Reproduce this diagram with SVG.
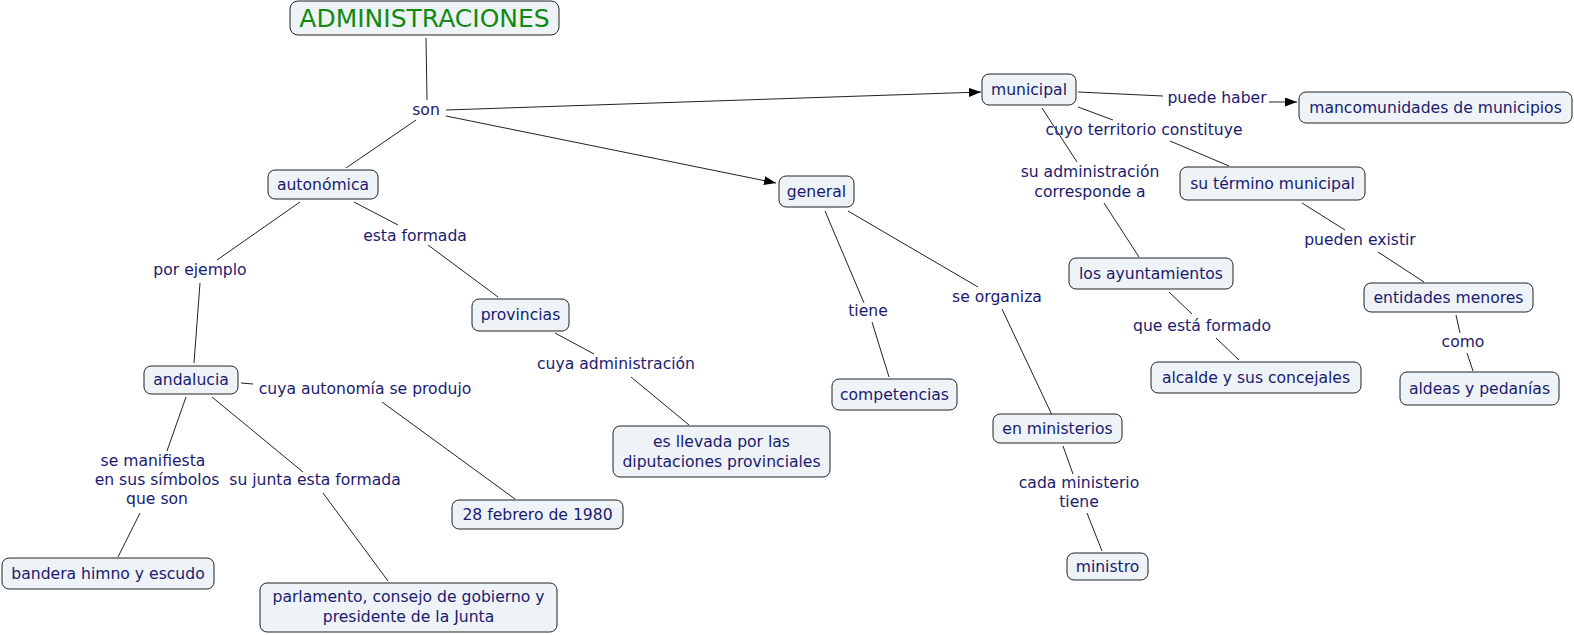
<svg xmlns="http://www.w3.org/2000/svg" width="1574" height="635" viewBox="0 0 1574 635">
<style>
.n rect{fill:#edf3f6;stroke:#222;stroke-width:1}
text{font-family:"DejaVu Sans",Verdana,sans-serif;font-size:15.6px;fill:#1a1a70;text-anchor:middle}
.t{font-size:25px;fill:#128a12}
#connectors line{stroke:#222;stroke-width:1}
.a{marker-end:url(#ah)}
</style>
<defs>
<marker id="ah" viewBox="0 0 12 9" refX="12" refY="4.5" markerWidth="12" markerHeight="9" markerUnits="userSpaceOnUse" orient="auto">
<path d="M0,0 L12,4.5 L0,9 z" fill="#000"/>
</marker>
</defs>
<rect width="1574" height="635" fill="#fff"/>
<g id="connectors">
<line x1="426" y1="38" x2="427" y2="100"/>
<line class="a" x1="446" y1="110" x2="981" y2="92"/>
<line class="a" x1="446" y1="116" x2="776" y2="183"/>
<line x1="416" y1="120" x2="346" y2="168"/>
<line x1="1078" y1="92" x2="1163" y2="96"/>
<line class="a" x1="1269" y1="102" x2="1297" y2="102"/>
<line x1="1078" y1="107" x2="1113" y2="120"/>
<line x1="1170" y1="141" x2="1229" y2="166"/>
<line x1="1042" y1="108" x2="1077" y2="162"/>
<line x1="1104" y1="203" x2="1139" y2="257"/>
<line x1="1302" y1="203" x2="1345" y2="230"/>
<line x1="1378" y1="252" x2="1424" y2="282"/>
<line x1="1456" y1="315" x2="1460" y2="333"/>
<line x1="1467" y1="353" x2="1473" y2="371"/>
<line x1="1169" y1="292" x2="1192" y2="314"/>
<line x1="1216" y1="338" x2="1239" y2="360"/>
<line x1="354" y1="202" x2="398" y2="225"/>
<line x1="428" y1="245" x2="498" y2="297"/>
<line x1="300" y1="202" x2="217" y2="260"/>
<line x1="200" y1="283" x2="194" y2="363"/>
<line x1="555" y1="333" x2="594" y2="354"/>
<line x1="631" y1="377" x2="689" y2="425"/>
<line x1="825" y1="211" x2="864" y2="303"/>
<line x1="872" y1="322" x2="889" y2="377"/>
<line x1="848" y1="211" x2="978" y2="287"/>
<line x1="1002" y1="309" x2="1052" y2="415"/>
<line x1="1063" y1="446" x2="1073" y2="474"/>
<line x1="1087" y1="513" x2="1102" y2="551"/>
<line x1="241" y1="383" x2="253" y2="384"/>
<line x1="382" y1="402" x2="515" y2="499"/>
<line x1="186" y1="397" x2="167" y2="451"/>
<line x1="140" y1="513" x2="118" y2="557"/>
<line x1="212" y1="397" x2="303" y2="472"/>
<line x1="323" y1="493" x2="388" y2="581"/>
</g>
<g id="labels">
<text x="426" y="115">son</text>
<text x="1217" y="103">puede haber</text>
<text x="1144" y="135">cuyo territorio constituye</text>
<text x="1090" y="177">su administración</text>
<text x="1090" y="197">corresponde a</text>
<text x="1360" y="245">pueden existir</text>
<text x="415" y="241">esta formada</text>
<text x="200" y="275">por ejemplo</text>
<text x="868" y="316">tiene</text>
<text x="997" y="302">se organiza</text>
<text x="1202" y="331">que está formado</text>
<text x="1463" y="347">como</text>
<text x="616" y="369">cuya administración</text>
<text x="365" y="394">cuya autonomía se produjo</text>
<text x="153" y="466">se manifiesta</text>
<text x="157" y="485">en sus símbolos</text>
<text x="157" y="504">que son</text>
<text x="315" y="485">su junta esta formada</text>
<text x="1079" y="488">cada ministerio</text>
<text x="1079" y="507">tiene</text>
</g>
<g id="n-admin" class="n"><rect x="290" y="1" width="269" height="34" rx="8"/><text class="t" x="424.5" y="27">ADMINISTRACIONES</text></g>
<g id="n-municipal" class="n"><rect x="982" y="74" width="94" height="31" rx="7"/><text x="1029" y="95">municipal</text></g>
<g id="n-mancomunidades" class="n"><rect x="1299" y="92" width="273" height="31" rx="7"/><text x="1435.5" y="113">mancomunidades de municipios</text></g>
<g id="n-termino" class="n"><rect x="1180" y="167" width="185" height="33" rx="7"/><text x="1272.5" y="189">su término municipal</text></g>
<g id="n-autonomica" class="n"><rect x="268" y="170" width="110" height="29" rx="7"/><text x="323" y="190">autonómica</text></g>
<g id="n-general" class="n"><rect x="779" y="176" width="75" height="31" rx="7"/><text x="816.5" y="197">general</text></g>
<g id="n-ayuntamientos" class="n"><rect x="1069" y="258" width="164" height="31" rx="7"/><text x="1151" y="279">los ayuntamientos</text></g>
<g id="n-entidades" class="n"><rect x="1364" y="283" width="169" height="29" rx="7"/><text x="1448.5" y="303">entidades menores</text></g>
<g id="n-provincias" class="n"><rect x="472" y="299" width="97" height="32" rx="7"/><text x="520.5" y="320">provincias</text></g>
<g id="n-andalucia" class="n"><rect x="144" y="366" width="94" height="28" rx="7"/><text x="191" y="385">andalucia</text></g>
<g id="n-competencias" class="n"><rect x="832" y="379" width="125" height="31" rx="7"/><text x="894.5" y="400">competencias</text></g>
<g id="n-alcalde" class="n"><rect x="1151" y="362" width="210" height="31" rx="7"/><text x="1256" y="383">alcalde y sus concejales</text></g>
<g id="n-aldeas" class="n"><rect x="1400" y="372" width="159" height="33" rx="7"/><text x="1479.5" y="394">aldeas y pedanías</text></g>
<g id="n-ministerios" class="n"><rect x="993" y="414" width="129" height="29" rx="7"/><text x="1057.5" y="434">en ministerios</text></g>
<g id="n-diputaciones" class="n"><rect x="613" y="426" width="217" height="51" rx="7"/><text x="721.5" y="447">es llevada por las</text><text x="721.5" y="467">diputaciones provinciales</text></g>
<g id="n-1980" class="n"><rect x="452" y="500" width="171" height="29" rx="7"/><text x="537.5" y="520">28 febrero de 1980</text></g>
<g id="n-ministro" class="n"><rect x="1067" y="553" width="81" height="27" rx="7"/><text x="1107.5" y="572">ministro</text></g>
<g id="n-bandera" class="n"><rect x="2" y="558" width="212" height="31" rx="7"/><text x="108" y="579">bandera himno y escudo</text></g>
<g id="n-parlamento" class="n"><rect x="260" y="583" width="297" height="49" rx="7"/><text x="408.5" y="602">parlamento, consejo de gobierno y</text><text x="408.5" y="622">presidente de la Junta</text></g>
</svg>
